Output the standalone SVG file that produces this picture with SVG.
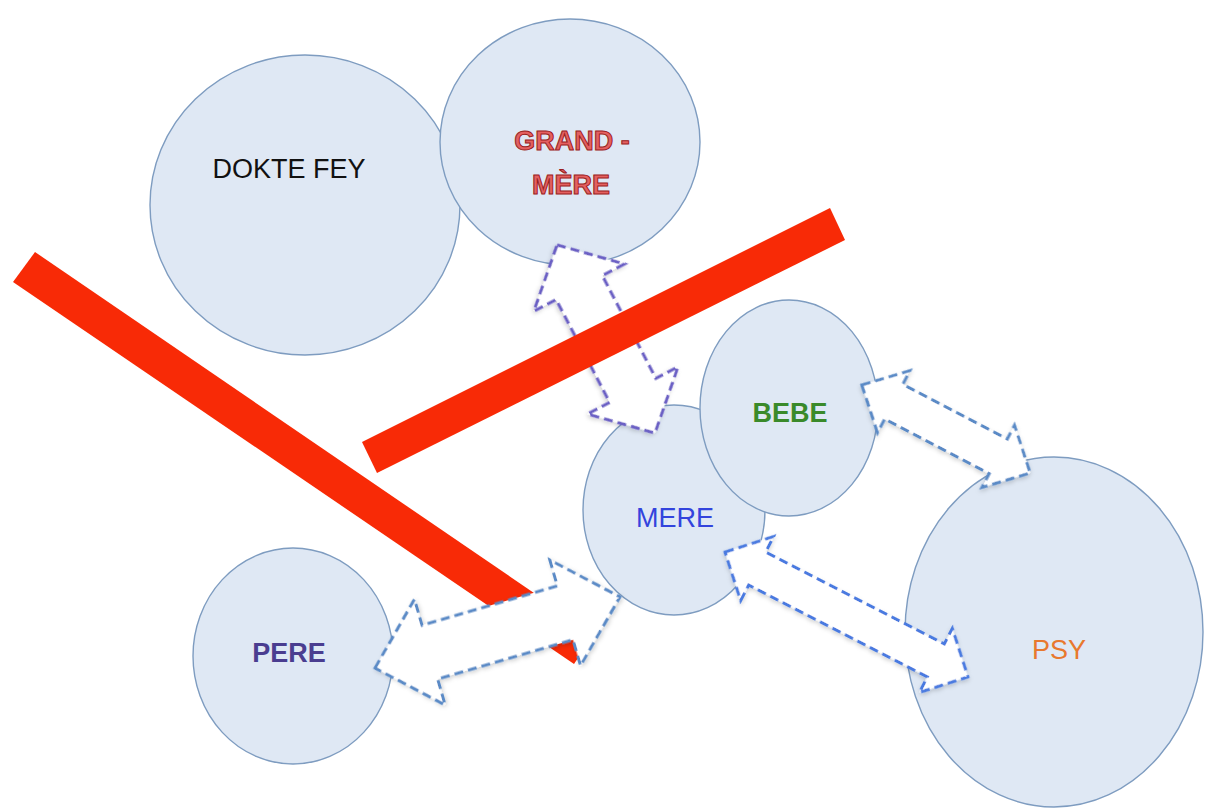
<svg xmlns="http://www.w3.org/2000/svg" width="1214" height="809" viewBox="0 0 1214 809">
<defs>
<style>
.node{fill:#dfe8f4;stroke:#7e9cc0;stroke-width:1.4}
.bar{fill:#f82a06}
.arr{fill:#ffffff;stroke-width:3;stroke-dasharray:9 5;stroke-linejoin:miter}
.lbl{font-family:"Liberation Sans",Arial,sans-serif;font-size:27px;text-anchor:middle}
</style>
<filter id="sh" x="-20%" y="-20%" width="140%" height="140%">
<feDropShadow dx="1" dy="2" stdDeviation="2" flood-color="#000" flood-opacity="0.18"/>
</filter>
</defs>
<rect width="1214" height="809" fill="#ffffff"/>

<g id="dokte-fey">
<ellipse class="node" cx="305" cy="205" rx="155" ry="150"/>
<text class="lbl" x="289" y="178" font-size="28" fill="#111111">DOKTE FEY</text>
</g>
<g id="grand-mere">
<ellipse class="node" cx="570" cy="142" rx="130" ry="123"/>
<text class="lbl" x="572" y="150" font-size="28" font-weight="bold" fill="#e46060" stroke="#9a2020" stroke-width="1">GRAND -</text>
<text class="lbl" x="571" y="194" font-size="28" font-weight="bold" fill="#e46060" stroke="#9a2020" stroke-width="1">MÈRE</text>
</g>
<g id="pere">
<ellipse class="node" cx="293" cy="656" rx="100" ry="108"/>
<text class="lbl" x="289" y="662" font-weight="bold" fill="#4a3d90">PERE</text>
</g>
<g id="mere">
<ellipse class="node" cx="674" cy="510" rx="91" ry="105"/>
<text class="lbl" x="675" y="527" fill="#3344dd">MERE</text>
</g>
<g id="bebe">
<ellipse class="node" cx="789" cy="408" rx="89" ry="108"/>
<text class="lbl" x="790" y="422" font-weight="bold" fill="#3a8a2a">BEBE</text>
</g>
<g id="psy">
<ellipse class="node" cx="1054" cy="632" rx="149" ry="175"/>
<text class="lbl" x="1059" y="659" fill="#e8782e">PSY</text>
</g>

<g id="connectors">
<path class="arr" filter="url(#sh)" stroke="#6a5fc4" transform="translate(606,339) rotate(62.5)" d="M -106,0 L -58,-51 L -58,-26 L 58,-26 L 58,-51 L 106,0 L 58,51 L 58,26 L -58,26 L -58,51 Z"/>
<polygon id="bar-top" class="bar" points="362,442 830,208 845,240 377,473"/>
<polygon id="bar-left" class="bar" points="35,252 594,634 574,664 13,282"/>
<path class="arr" filter="url(#sh)" stroke="#5a8ac6" transform="translate(497.5,632.5) rotate(-16.2)" d="M -127.5,0 L -70.5,-55 L -70.5,-28 L 70.5,-28 L 70.5,-55 L 127.5,0 L 70.5,55 L 70.5,28 L -70.5,28 L -70.5,55 Z"/>
<path class="arr" filter="url(#sh)" stroke="#4a7ae0" transform="translate(846.5,614.5) rotate(27.2)" d="M -136.5,0 L -100.5,-36 L -100.5,-18.5 L 100.5,-18.5 L 100.5,-36 L 136.5,0 L 100.5,36 L 100.5,18.5 L -100.5,18.5 L -100.5,36 Z"/>
<path class="arr" filter="url(#sh)" stroke="#5a8ac6" transform="translate(946,429) rotate(27.6)" d="M -95,0 L -59,-35 L -59,-19.5 L 59,-19.5 L 59,-35 L 95,0 L 59,35 L 59,19.5 L -59,19.5 L -59,35 Z"/>
</g>
</svg>
